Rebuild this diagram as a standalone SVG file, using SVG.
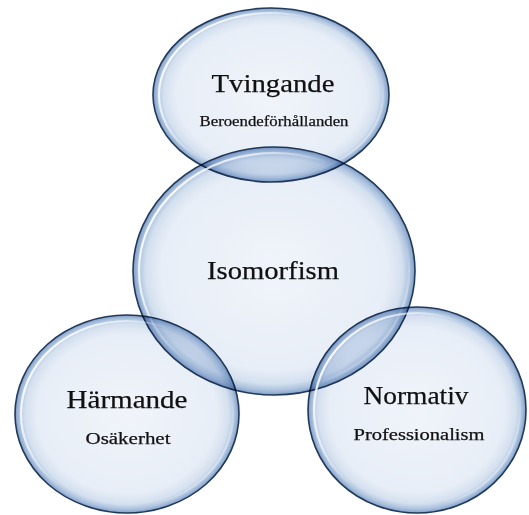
<svg xmlns="http://www.w3.org/2000/svg" width="529" height="515" viewBox="0 0 529 515">
  <defs>
    <radialGradient id="bubble" cx="50%" cy="50%" r="50%">
      <stop offset="0%" stop-color="#f0f4fa"/>
      <stop offset="80%" stop-color="#e8eef7"/>
      <stop offset="91%" stop-color="#d4e0ef"/>
      <stop offset="96.5%" stop-color="#a9c0dd"/>
      <stop offset="100%" stop-color="#809ec6"/>
    </radialGradient>
    <linearGradient id="gloss" x1="0" y1="0.2" x2="1" y2="0.8">
      <stop offset="0%" stop-color="#ffffff" stop-opacity="1"/>
      <stop offset="25%" stop-color="#ffffff" stop-opacity="0.6"/>
      <stop offset="45%" stop-color="#ffffff" stop-opacity="0"/>
      <stop offset="80%" stop-color="#ffffff" stop-opacity="0"/>
      <stop offset="100%" stop-color="#ffffff" stop-opacity="0.6"/>
    </linearGradient>
  </defs>
  <style>
    .bub { fill: url(#bubble); stroke: #21395a; stroke-width: 1.6; mix-blend-mode: multiply; }
    .hl { fill: none; stroke: url(#gloss); stroke-width: 2.2; }
    text { font-family: "Liberation Serif", "DejaVu Serif", serif; fill: #111; stroke: #111; stroke-width: 0.25; text-anchor: middle; }
    .title { font-size: 26px; }
    .sub { font-size: 17px; }
    .sub2 { font-size: 15px; }
  </style>
  <rect width="529" height="515" fill="#ffffff"/>
  <g id="connectors"/>
  <g id="node-tvingande">
    <ellipse class="bub" cx="271" cy="95" rx="118" ry="87"/>
    <ellipse class="hl" cx="271" cy="95" rx="112" ry="82"/>
  </g>
  <g id="node-isomorfism">
    <ellipse class="bub" cx="274" cy="271" rx="141" ry="124"/>
    <ellipse class="hl" cx="274" cy="271" rx="135" ry="118"/>
  </g>
  <g id="node-harmande">
    <ellipse class="bub" cx="127" cy="414" rx="112" ry="99"/>
    <ellipse class="hl" cx="127" cy="414" rx="106" ry="93"/>
  </g>
  <g id="node-normativ">
    <ellipse class="bub" cx="417" cy="410" rx="109" ry="103"/>
    <ellipse class="hl" cx="417" cy="410" rx="103" ry="97"/>
  </g>
  <g id="labels">
    <text class="title" x="273" y="92" textLength="123" lengthAdjust="spacingAndGlyphs">Tvingande</text>
    <text class="sub2" x="274" y="126" textLength="149" lengthAdjust="spacingAndGlyphs">Beroendeförhållanden</text>
    <text class="title" x="273" y="279" textLength="132" lengthAdjust="spacingAndGlyphs">Isomorfism</text>
    <text class="title" x="127" y="408" textLength="121" lengthAdjust="spacingAndGlyphs">Härmande</text>
    <text class="sub" x="128" y="444" textLength="85" lengthAdjust="spacingAndGlyphs">Osäkerhet</text>
    <text class="title" x="416" y="404" textLength="105" lengthAdjust="spacingAndGlyphs">Normativ</text>
    <text class="sub" x="419" y="440" textLength="131" lengthAdjust="spacingAndGlyphs">Professionalism</text>
  </g>
</svg>
